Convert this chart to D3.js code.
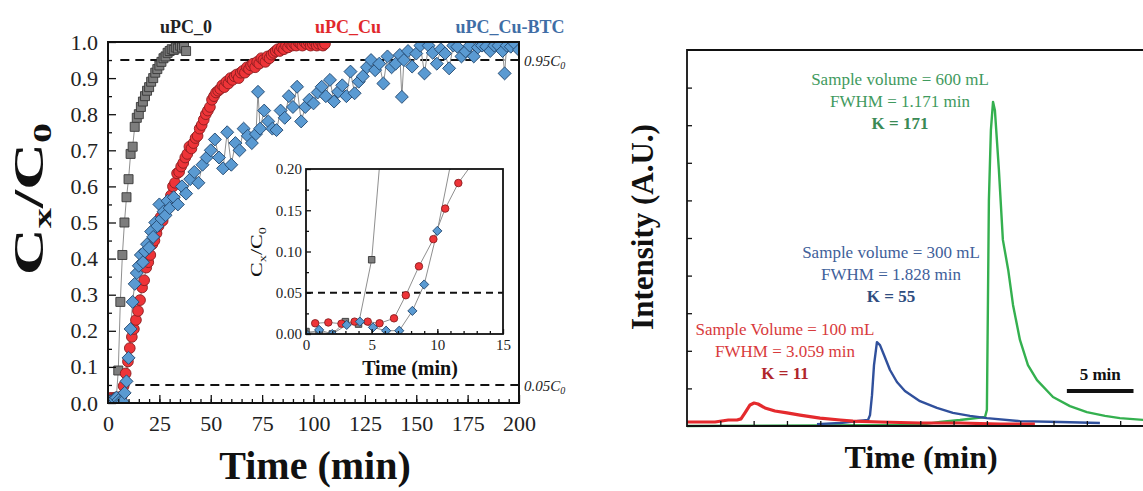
<!DOCTYPE html>
<html>
<head>
<meta charset="utf-8">
<script src="https://cdn.jsdelivr.net/npm/d3@7/dist/d3.min.js"></script>
<style>
  body { margin: 0; background: #fff; }
  svg { display: block; font-family: "Liberation Serif", "Times New Roman", serif; }
</style>
</head>
<body>
<svg width="1143" height="491"></svg>
<script>
// ---- Breakthrough curves: [time (min), Cx/C0] ----
const uPC_0 = [
  [0,0.003],[1,0.002],[2,0.0],[3,0.015],[4,0.012],[5,0.09],[6,0.28],[7,0.41],[8,0.50],[9,0.57],
  [10,0.62],[11,0.69],[12,0.71],[13,0.765],[14,0.79],[15,0.80],[16,0.82],[17,0.835],[18,0.85],[19,0.865],
  [20,0.875],[21,0.89],[22,0.90],[23,0.915],[24,0.925],[25,0.935],[26,0.945],[27,0.955],[28,0.96],[29,0.97],
  [30,0.975],[31,0.98],[32,0.978],[33,0.985],[34,0.982],[35,0.99],[36,0.985],[37,0.99],[38,0.975]
];

const uPC_Cu = [
  [0.7,0.013],[1.7,0.014],[2.7,0.0125],[3.7,0.015],[4.7,0.015],[5.6,0.013],[6.7,0.019],[7.6,0.047],[8.6,0.082],[9.7,0.115],
  [10.6,0.152],[11.6,0.183],[12.6,0.205],[13.6,0.23],[14.6,0.255],[15.6,0.285],[16.6,0.32],[17.6,0.34],[18.6,0.375],[19.6,0.39],
  [20.6,0.41],[21.6,0.44],[22.6,0.45],[23.6,0.47],[24.6,0.49],[25.6,0.515],[26.6,0.505],[27.6,0.53],[28.6,0.545],[29.6,0.56],
  [30.6,0.575],[31.6,0.60],[32.6,0.61],[33.6,0.636],[34.6,0.64],[35.6,0.655],[36.6,0.665],[37.6,0.68],[38.6,0.69],[39.6,0.71],
  [40.6,0.705],[41.6,0.72],[42.6,0.734],[43.6,0.74],[44.6,0.76],[45.6,0.77],[46.6,0.785],[47.6,0.80],[48.6,0.81],[49.6,0.82],
  [50.6,0.84],[51.6,0.85],[52.6,0.86],[53.6,0.865],[54.6,0.87],[55.6,0.88],[56.6,0.875],[57.6,0.89],[58.6,0.885],[59.6,0.90],
  [60.6,0.895],[61.6,0.905],[62.6,0.91],[63.6,0.90],[64.6,0.915],[65.6,0.92],[66.6,0.915],[67.6,0.93],[68.6,0.925],[69.6,0.935],
  [70.6,0.94],[71.6,0.93],[72.6,0.945],[73.6,0.94],[74.6,0.955],[75.6,0.95],[76.6,0.945],[77.6,0.96],[78.6,0.955],[79.6,0.965],
  [80.6,0.97],[81.6,0.975],[82.6,0.98],[83.6,0.975],[84.6,0.985],[85.6,0.98],[86.6,0.99],[87.6,0.985],[88.6,0.995],[89.6,0.99],
  [90.6,0.995],[91.6,0.99],[92.6,1.0],[93.6,0.995],[94.6,0.99],[95.6,1.0],[96.6,0.995],[97.6,1.0],[98.6,0.99],[99.6,0.995],
  [100.6,1.0],[101.6,0.99],[102.6,0.995],[103.6,1.0],[104.6,0.99],[105.6,0.995]
];

const uPC_CuBTC = [
  [0,0.0],[1,0.005],[2,0.0],[3.1,0.011],[4.1,0.015],[5.1,0.008],[6.1,0.004],[7.1,0.004],[8.1,0.028],[9,0.06],
  [10,0.125],[11,0.205],[12,0.28],[13,0.33],[14,0.36],[15,0.38],[16,0.41],[17,0.39],[18,0.42],[19,0.44],
  [20,0.43],[21,0.475],[22,0.46],[23,0.50],[24,0.49],[25,0.55],[26,0.51],[27,0.53],[28,0.52],[29,0.56],
  [30,0.54],[32,0.57],[34,0.55],[36,0.60],[38,0.58],[40,0.62],[42,0.64],[44,0.61],[46,0.66],[48,0.68],
  [50,0.70],[52,0.73],[54,0.68],[56,0.65],[58,0.75],[60,0.66],[62,0.72],[64,0.70],[66,0.76],[68,0.74],
  [70,0.72],[72,0.745],[73,0.862],[74,0.76],[76,0.81],[78,0.78],[80,0.76],[82,0.756],[84,0.81],[86,0.79],
  [88,0.85],[90,0.82],[92,0.876],[94,0.78],[96,0.82],[98,0.84],[100,0.83],[102,0.86],[104,0.876],[106,0.85],
  [108,0.895],[110,0.835],[112,0.862],[114,0.88],[116,0.85],[118,0.918],[120,0.858],[122,0.89],[124,0.905],[126,0.93],
  [128,0.95],[130,0.922],[132,0.94],[134,0.885],[136,0.96],[138,0.93],[140,0.94],[142,0.964],[143,0.848],[144,0.95],
  [146,0.975],[148,0.932],[150,0.968],[152,0.99],[154,0.913],[156,0.99],[158,0.97],[160,0.94],[162,0.98],[164,0.968],
  [166,0.927],[168,0.99],[170,0.987],[172,0.96],[174,0.974],[176,0.99],[178,0.96],[180,0.985],[182,0.99],[184,0.987],
  [186,0.975],[188,0.99],[190,0.99],[192,0.975],[193,0.913],[194,0.99],[196,0.987],[198,0.995],[200,0.978]
];

const mainXTicks = [0, 25, 50, 75, 100, 125, 150, 175, 200];
const mainYTicks = [0, 0.1, 0.2, 0.3, 0.4, 0.5, 0.6, 0.7, 0.8, 0.9, 1.0];
const insetXTicks = [0, 5, 10, 15];
const insetYTicks = [0, 0.05, 0.10, 0.15, 0.20];
const thresholds = [0.95, 0.05];

// ---- Chromatograms: [time (min), intensity (a.u.)] ----
const trace100 = [
  [0,0.106],[2.1,0.106],[3.1,0.16],[3.75,0.16],[4.05,0.19],[4.35,0.35],[4.73,0.56],[5.03,0.61],[5.33,0.585],[5.85,0.48],
  [6.6,0.40],[7.5,0.35],[8.48,0.29],[9.98,0.21],[11.5,0.16],[12.45,0.13],[14.5,0.106],[17.5,0.08],[20.5,0.08],[23.5,0.05],[26.1,0.05]
];
const trace300 = [
  [9.75,0.05],[11.48,0.08],[13.58,0.16],[13.73,0.29],[13.88,0.82],[14.03,1.62],[14.25,2.23],[14.48,2.15],[14.78,1.89],[15.23,1.49],
  [15.75,1.17],[16.35,0.93],[17.48,0.66],[18.75,0.48],[19.95,0.35],[21.23,0.27],[22.5,0.21],[24.98,0.13],[27.98,0.106],[30.98,0.08]
];
const trace600 = [
  [0,0.0],[17.48,0.03],[18.98,0.11],[20.48,0.16],[22.36,0.24],[22.5,0.43],[22.58,3.35],[22.65,6.01],[22.8,7.87],[22.96,8.62],
  [23.1,8.4],[23.4,6.81],[23.7,4.95],[24.1,4.15],[24.46,3.22],[24.98,2.29],[25.58,1.62],[26.26,1.22],[27.46,0.77],[28.73,0.53],
  [30.0,0.37],[31.36,0.27],[32.48,0.21],[34.36,0.16]
];

const annotations = [
  { lines: ["Sample volume = 600 mL", "FWHM = 1.171 min", "K = 171"], color: "#3f9a5e", kColor: "#3a8a55", x: 900, y: 85 },
  { lines: ["Sample volume = 300 mL", "FWHM = 1.828 min", "K = 55"], color: "#40609a", kColor: "#2f4d80", x: 891, y: 258 },
  { lines: ["Sample Volume = 100 mL", "FWHM = 3.059 min", "K = 11"], color: "#d83a3c", kColor: "#b0262b", x: 785, y: 335 }
];

const svg = d3.select("svg");

// ================= left panel =================
const x = d3.scaleLinear().domain([0, 200]).range([108, 519]);
const y = d3.scaleLinear().domain([0, 1]).range([403, 42]);

svg.append("clipPath").attr("id", "mainClip")
  .append("rect").attr("x", 108).attr("y", 42).attr("width", 411).attr("height", 361);

// dashed thresholds
svg.append("g").selectAll("line")
  .data(thresholds)
  .join("line")
  .attr("x1", x(6)).attr("x2", x(200))
  .attr("y1", (d) => y(d)).attr("y2", (d) => y(d))
  .attr("stroke", "#111").attr("stroke-width", 2).attr("stroke-dasharray", "9,6");

const series = [
  { data: uPC_0, shape: "square", fill: "#7d7d7d", stroke: "#383838" },
  { data: uPC_Cu, shape: "circle", fill: "#ee3438", stroke: "#8a1d1f" },
  { data: uPC_CuBTC, shape: "diamond", fill: "#5a9ad2", stroke: "#254a72" }
];

function drawSeries(g, xs, ys, big) {
  const line = d3.line().x((d) => xs(d[0])).y((d) => ys(d[1]));
  series.forEach((s) => {
    g.append("path")
      .attr("d", line(s.data))
      .attr("fill", "none")
      .attr("stroke", "#8f8f8f")
      .attr("stroke-width", 1);
  });
  series.forEach((s) => {
    let sym;
    if (s.shape === "square") sym = d3.symbol(d3.symbolSquare, big ? 81 : 42);
    else if (s.shape === "circle") sym = d3.symbol(d3.symbolCircle, big ? 90 : 44);
    else sym = d3.symbol(d3.symbolSquare, big ? 84 : 42);
    g.append("g").selectAll("path")
      .data(s.data)
      .join("path")
      .attr("d", sym)
      .attr("transform", (d) => `translate(${xs(d[0])},${ys(d[1])})` + (s.shape === "diamond" ? " rotate(45)" : ""))
      .attr("fill", s.fill)
      .attr("stroke", s.stroke)
      .attr("stroke-width", 0.9);
  });
}

drawSeries(svg.append("g").attr("clip-path", "url(#mainClip)"), x, y, true);

// axes (ticks point inward)
const xAxis = svg.append("g").attr("transform", "translate(0,403)")
  .call(d3.axisBottom(x).tickValues(mainXTicks).tickSize(-8).tickPadding(12));
svg.append("g").attr("transform", "translate(0,403)")
  .call(d3.axisBottom(x).tickValues(d3.range(5, 200, 5)).tickSize(-4).tickFormat(""));
const yAxis = svg.append("g").attr("transform", "translate(108,0)")
  .call(d3.axisLeft(y).tickValues(mainYTicks).tickFormat(d3.format(".1f")).tickSize(-8).tickPadding(10));
svg.append("g").attr("transform", "translate(108,0)")
  .call(d3.axisLeft(y).tickValues(d3.range(0.05, 1, 0.1)).tickSize(-4).tickFormat(""));

svg.selectAll(".domain").remove();
svg.selectAll(".tick line").attr("stroke", "#111").attr("stroke-width", 1.5);
[xAxis, yAxis].forEach((a) => a.selectAll("text").attr("font-size", 22).attr("fill", "#222")
  .attr("font-family", "Liberation Serif, serif"));

svg.append("rect").attr("x", 108).attr("y", 42).attr("width", 411).attr("height", 361)
  .attr("fill", "none").attr("stroke", "#111").attr("stroke-width", 2);

// threshold labels
function thresholdLabel(v, text) {
  const t = svg.append("text").attr("x", 524).attr("y", y(v) + 6)
    .attr("font-size", 15).attr("font-style", "italic").attr("fill", "#222");
  t.append("tspan").text(text);
  t.append("tspan").attr("font-size", 10).attr("dy", 3).text("0");
}
thresholdLabel(0.95, "0.95C");
thresholdLabel(0.05, "0.05C");

// series names
const names = [
  { text: "uPC_0", color: "#222", x: 186 },
  { text: "uPC_Cu", color: "#e1282c", x: 348 },
  { text: "uPC_Cu-BTC", color: "#3f6ea6", x: 510 }
];
svg.append("g").selectAll("text")
  .data(names)
  .join("text")
  .attr("x", (d) => d.x).attr("y", 33)
  .attr("text-anchor", "middle")
  .attr("font-size", 18).attr("font-weight", "bold")
  .attr("fill", (d) => d.color)
  .text((d) => d.text);

function ratioTitle(tx, ty, size, sub, shift, stretch, bold) {
  const t = svg.append("text")
    .attr("transform", `translate(${tx},${ty}) rotate(-90) scale(${stretch},1)`)
    .attr("text-anchor", "middle")
    .attr("font-size", size)
    .attr("font-weight", bold ? "bold" : "normal")
    .attr("fill", "#111");
  t.append("tspan").text("C");
  t.append("tspan").attr("font-size", sub).attr("dy", shift).text("x");
  t.append("tspan").attr("dy", -shift).text("/");
  t.append("tspan").text("C");
  t.append("tspan").attr("font-size", sub).attr("dy", shift).text("0");
}

ratioTitle(43, 199, 42, 26, 8, 1.55, true);

svg.append("text").attr("x", 315).attr("y", 479)
  .attr("text-anchor", "middle").attr("font-size", 40).attr("font-weight", "bold")
  .attr("fill", "#111").text("Time (min)");

// ---- inset ----
const xi = d3.scaleLinear().domain([0, 15]).range([306, 503]);
const yi = d3.scaleLinear().domain([0, 0.2]).range([334, 169]);

svg.append("rect").attr("x", 306).attr("y", 169).attr("width", 197).attr("height", 165).attr("fill", "#fff");
svg.append("clipPath").attr("id", "insetClip")
  .append("rect").attr("x", 306).attr("y", 169).attr("width", 197).attr("height", 165);

svg.append("line")
  .attr("x1", xi(0)).attr("x2", xi(15))
  .attr("y1", yi(0.05)).attr("y2", yi(0.05))
  .attr("stroke", "#111").attr("stroke-width", 1.8).attr("stroke-dasharray", "7,5");

drawSeries(svg.append("g").attr("clip-path", "url(#insetClip)"), xi, yi, false);

const ixAxis = svg.append("g").attr("transform", "translate(0,334)")
  .call(d3.axisBottom(xi).tickValues(insetXTicks).tickSize(-5).tickPadding(5));
svg.append("g").attr("transform", "translate(0,334)")
  .call(d3.axisBottom(xi).tickValues(d3.range(1, 15, 1)).tickSize(-3).tickFormat(""));
const iyAxis = svg.append("g").attr("transform", "translate(306,0)")
  .call(d3.axisLeft(yi).tickValues(insetYTicks).tickFormat(d3.format(".2f")).tickSize(-5).tickPadding(4));
svg.append("g").attr("transform", "translate(306,0)")
  .call(d3.axisLeft(yi).tickValues([0.025, 0.075, 0.125, 0.175]).tickSize(-3).tickFormat(""));

svg.selectAll(".domain").remove();
svg.selectAll(".tick line").attr("stroke", "#111").attr("stroke-width", 1.3);
[ixAxis, iyAxis].forEach((a) => a.selectAll("text").attr("font-size", 15).attr("fill", "#222")
  .attr("font-family", "Liberation Serif, serif"));

svg.append("rect").attr("x", 306).attr("y", 169).attr("width", 197).attr("height", 165)
  .attr("fill", "none").attr("stroke", "#111").attr("stroke-width", 1.8);

ratioTitle(262, 252, 17, 11, 4, 1.3, false);
svg.append("text").attr("x", 410).attr("y", 375)
  .attr("text-anchor", "middle").attr("font-size", 20).attr("font-weight", "bold")
  .attr("fill", "#111").text("Time (min)");

// ================= right panel =================
const xr = d3.scaleLinear().domain([0, 35]).range([687, 1153.5]);
const yr = d3.scaleLinear().domain([0, 10]).range([426, 50]);

const rLine = d3.line().x((d) => xr(d[0])).y((d) => yr(d[1]));
const traces = [
  { data: trace600, color: "#34b04f", width: 2.4 },
  { data: trace300, color: "#30509c", width: 2.4 },
  { data: trace100, color: "#e42a2d", width: 3.2 }
];
svg.append("g").selectAll("path")
  .data(traces)
  .join("path")
  .attr("d", (d) => rLine(d.data))
  .attr("fill", "none")
  .attr("stroke", (d) => d.color)
  .attr("stroke-width", (d) => d.width)
  .attr("stroke-linejoin", "round");

const rx = svg.append("g").attr("transform", "translate(0,426)")
  .call(d3.axisBottom(xr).tickValues(d3.range(2.5, 35, 2.5)).tickSize(-5).tickFormat(""));
const ry = svg.append("g").attr("transform", "translate(687,0)")
  .call(d3.axisLeft(yr).tickValues(d3.range(1, 10, 1)).tickSize(-5).tickFormat(""));
[rx, ry].forEach((a) => {
  a.select(".domain").remove();
  a.selectAll(".tick line").attr("stroke", "#111").attr("stroke-width", 1.3);
});

svg.append("path")
  .attr("d", `M${xr(35)},50 H687 V426 H${xr(35)}`)
  .attr("fill", "none").attr("stroke", "#111").attr("stroke-width", 1.8);

annotations.forEach((a) => {
  svg.append("g").selectAll("text")
    .data(a.lines)
    .join("text")
    .attr("x", a.x)
    .attr("y", (d, i) => a.y + i * 22)
    .attr("text-anchor", "middle")
    .attr("font-size", 17)
    .attr("font-weight", (d, i) => (i === 2 ? "bold" : "normal"))
    .attr("fill", (d, i) => (i === 2 ? a.kColor : a.color))
    .text((d) => d);
});

// 5 min scale bar
svg.append("line")
  .attr("x1", xr(28.5)).attr("x2", xr(33.5))
  .attr("y1", 391).attr("y2", 391)
  .attr("stroke", "#111").attr("stroke-width", 4);
svg.append("text").attr("x", xr(31)).attr("y", 380)
  .attr("text-anchor", "middle").attr("font-size", 17).attr("font-weight", "bold")
  .attr("fill", "#111").text("5 min");

svg.append("text")
  .attr("transform", "translate(653,227) rotate(-90)")
  .attr("text-anchor", "middle").attr("font-size", 31).attr("font-weight", "bold")
  .attr("fill", "#111").text("Intensity (A.U.)");
svg.append("text").attr("x", 921).attr("y", 468)
  .attr("text-anchor", "middle").attr("font-size", 32).attr("font-weight", "bold")
  .attr("fill", "#111").text("Time (min)");
</script>
</body>
</html>
